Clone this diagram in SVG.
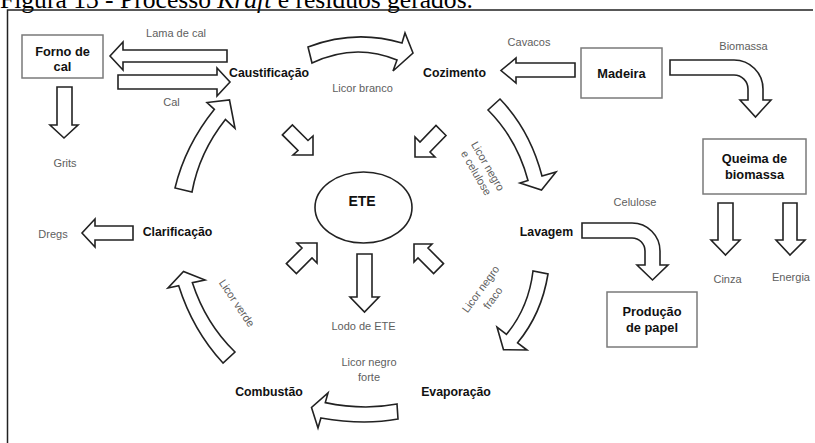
<svg xmlns="http://www.w3.org/2000/svg" width="815" height="443" viewBox="0 0 815 443">
<style>
.frame{fill:none;stroke:#222;stroke-width:1.5}
.cap{font-family:"Liberation Serif","Times New Roman",serif;font-size:25.5px;fill:#000}
.box{fill:#fff;stroke:#7a7a7a;stroke-width:1.5}
.ar{fill:#fff;stroke:#222;stroke-width:1.6;stroke-linejoin:miter}
.node{font-family:"Liberation Sans",Arial,sans-serif;font-weight:bold;font-size:12.3px;fill:#111;text-anchor:middle}
.bx{font-size:12.8px}
.lbl{font-family:"Liberation Sans",Arial,sans-serif;font-size:11px;fill:#5e5e5e;text-anchor:middle}
</style>
<rect width="815" height="443" fill="#fff"/>
<text class="cap" x="0" y="7.5" textLength="473" lengthAdjust="spacingAndGlyphs">Figura 13 - Processo <tspan font-style="italic">Kraft</tspan> e resíduos gerados.</text>
<path class="frame" d="M7.5,443 V10 H813"/>

<g id="connectors">
  <polygon class="ar" points="227,50 123,50 123,42 110,56 123,70 123,62 227,62"/>
  <polygon class="ar" points="118,75 217,75 217,68 230,82 217,96 217,89 118,89"/>
  <polygon class="ar" points="57,87 72,87 72,125 78,125 64,138 50,125 57,125"/>
  <polygon class="ar" points="133,226 95,226 95,219 82,233 95,247 95,240 133,240"/>
  <polygon class="ar" points="575,63 516,63 516,58 501,70.5 516,83 516,77 575,77"/>
  <polygon class="ar" points="718,203 733,203 733,240 740,240 725.5,255 711,240 718,240"/>
  <polygon class="ar" points="783,203 797,203 797,240 805,240 790,255 776,240 783,240"/>
  <polygon class="ar" points="357,254 372,254 372,297 379,297 364.5,312 350,297 357,297"/>
  <path class="ar" d="M670,60 L734,60 A29,29 0 0 1 763,89 L763,100 L771,100 L755.5,117 L740,100 L748,100 L748,89 A14,14 0 0 0 734,75 L670,75 Z"/>
  <path class="ar" d="M582,223 L632,223 A28,28 0 0 1 660,251 L660,265 L668,265 L652.5,280 L637,265 L645,265 L645,251 A13,13 0 0 0 632,238 L582,238 Z"/>
  <path class="ar" d="M308,47 Q355,29 402,43 L405,33 L413,53 L393,71 L397,60 Q355,42.5 312,63 Z"/>
  <path class="ar" d="M500,99 Q530,130 542,176 L556,172 L541.5,190 L520,183 L528,180.5 Q517,139 488,110 Z"/>
  <path class="ar" d="M533,271 Q528.6,307.7 506.5,334.3 L497,327 L503.5,349.6 L527,350 L517.6,342.8 Q541.6,313.7 548,274 Z"/>
  <path class="ar" d="M397,404 Q363.5,410.5 325.3,402.6 L328,393 L311.5,407.5 L318,428 L320.9,418 Q363.5,425.5 398,419 Z"/>
  <path class="ar" d="M223,363 Q192.8,330.3 178.7,285.7 L168,288 L183.5,271.5 L205,280 L192.4,282.7 Q205.6,323.3 235,352 Z"/>
  <path class="ar" d="M175,188 Q185.3,145.4 214.4,109.3 L207,102.5 L229.5,100 L235,128.3 L225.4,119.5 Q199.3,152.4 192,192 Z"/>
  <polygon class="ar" points="282.4,134.9 292.4,124.9 308,140.5 313,136 313,155 293,155 298,150.5"/>
  <polygon class="ar" points="446,135.5 436,125.5 420,142 415,137 415,157 435,157 430,152"/>
  <polygon class="ar" points="286.4,263.6 296.4,273.6 312,258 317,263 317,243 297,243 302,248"/>
  <polygon class="ar" points="443.5,263.6 433.6,273.5 418,258 414,262 414,244 432,244 428,248"/>

  <text class="lbl" x="176" y="37">Lama de cal</text>
  <text class="lbl" x="171.5" y="106">Cal</text>
  <text class="lbl" x="65" y="167">Grits</text>
  <text class="lbl" x="362.5" y="92">Licor branco</text>
  <text class="lbl" x="529" y="46">Cavacos</text>
  <text class="lbl" x="743.5" y="50">Biomassa</text>
  <text class="lbl" x="635" y="206">Celulose</text>
  <text class="lbl" x="727.5" y="283">Cinza</text>
  <text class="lbl" x="791" y="281">Energia</text>
  <text class="lbl" x="53" y="237.5">Dregs</text>
  <text class="lbl" x="363.5" y="330">Lodo de ETE</text>
  <text class="lbl" x="369" y="366">Licor negro<tspan x="369" y="381">forte</tspan></text>
  <text class="lbl" transform="translate(237,303) rotate(56)" x="0" y="4">Licor verde</text>
  <text class="lbl" transform="translate(488,166) rotate(60)" x="0" y="4">Licor negro<tspan x="0" y="17.5">e celulose</tspan></text>
  <text class="lbl" transform="translate(480.5,289) rotate(-54)" x="0" y="4">Licor negro<tspan x="0" y="19">fraco</tspan></text>
</g>

<g id="forno-de-cal">
  <rect class="box" x="22" y="35" width="81" height="43"/>
  <text class="node bx" x="62.5" y="56">Forno de<tspan x="62.5" y="71">cal</tspan></text>
</g>
<g id="madeira">
  <rect class="box" x="581" y="48" width="81" height="50"/>
  <text class="node bx" x="621.5" y="77.5">Madeira</text>
</g>
<g id="queima-de-biomassa">
  <rect class="box" x="703" y="139" width="103" height="55"/>
  <text class="node bx" x="754.5" y="163">Queima de<tspan x="754.5" y="179">biomassa</tspan></text>
</g>
<g id="producao-de-papel">
  <rect class="box" x="607" y="292" width="90" height="55"/>
  <text class="node bx" x="652" y="316">Produção<tspan x="652" y="331.5">de papel</tspan></text>
</g>
<g id="ete">
  <ellipse cx="363.5" cy="207.5" rx="48.5" ry="35.5" fill="#fff" stroke="#222" stroke-width="1.6"/>
  <text class="node" style="font-size:14px" x="362" y="206">ETE</text>
</g>
<g id="caustificacao"><text class="node" x="269" y="76.5">Caustificação</text></g>
<g id="cozimento"><text class="node" x="454.5" y="76.5">Cozimento</text></g>
<g id="lavagem"><text class="node" x="546.5" y="235.5">Lavagem</text></g>
<g id="clarificacao"><text class="node" x="177.5" y="235.5">Clarificação</text></g>
<g id="combustao"><text class="node" x="269" y="395.5">Combustão</text></g>
<g id="evaporacao"><text class="node" x="456" y="395.5">Evaporação</text></g>
</svg>
